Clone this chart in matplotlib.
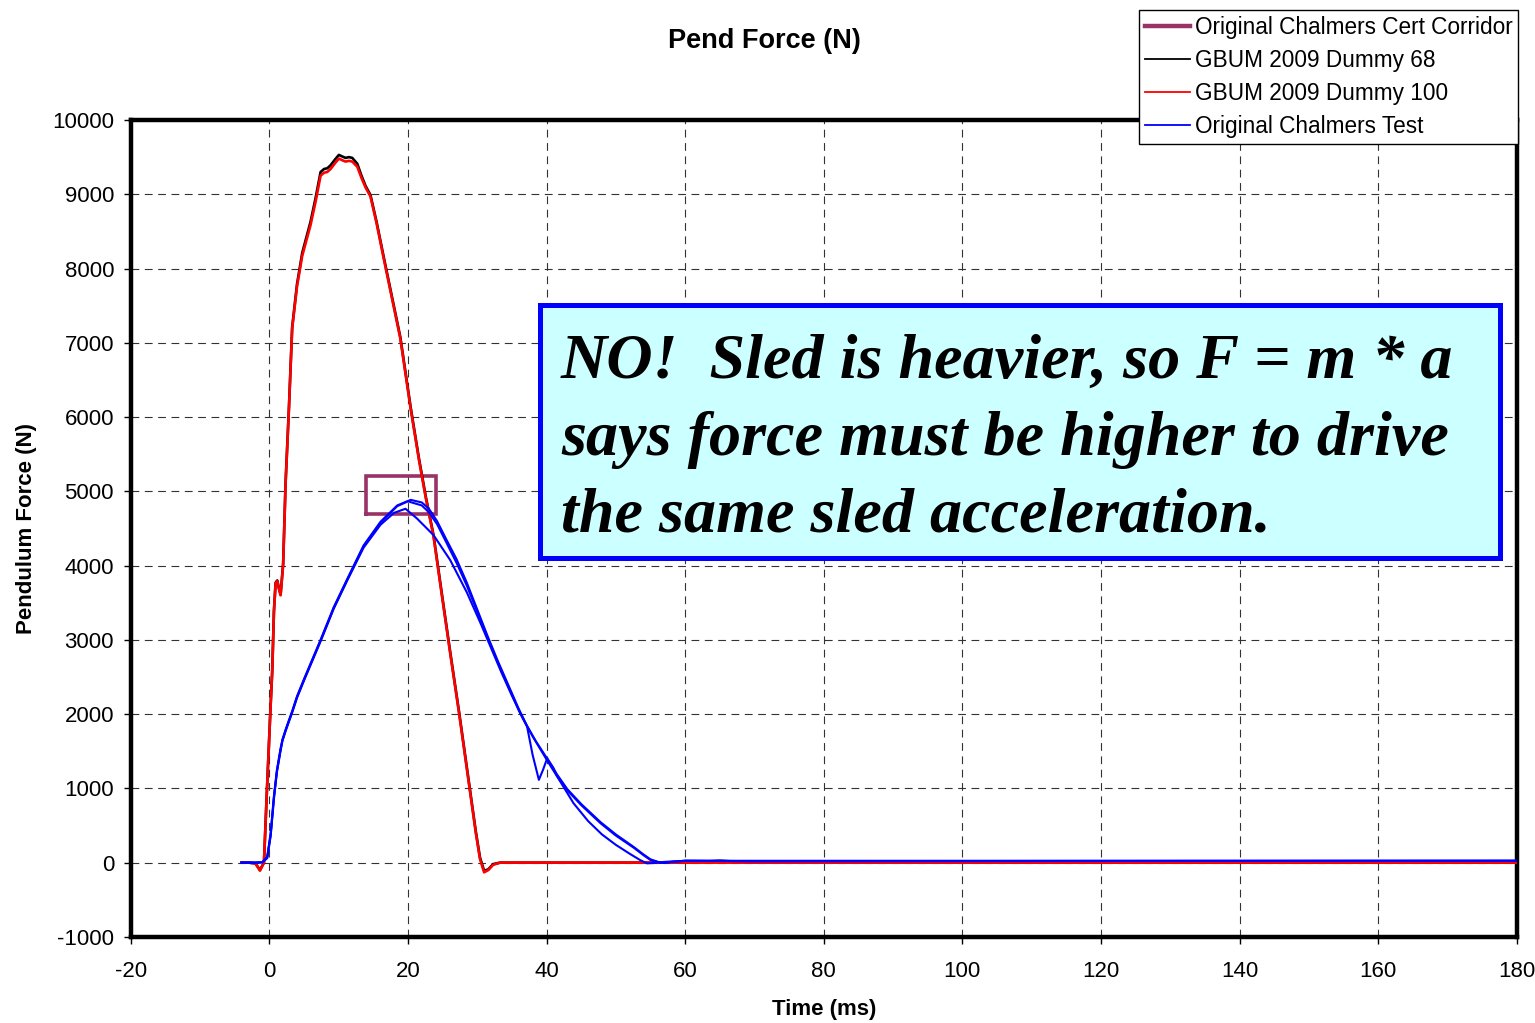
import matplotlib
matplotlib.use("Agg")
import matplotlib.pyplot as plt
from matplotlib.patches import Rectangle
from matplotlib.lines import Line2D

# ---------------- data ----------------
corridor_t = [14.0, 24.0, 24.0, 14.0, 14.0]
corridor_v = [4700, 4700, 5200, 5200, 4700]

red_t = [-4, -3, -2, -1.35, -0.77, -0.4, 0.19, 0.43, 0.67, 0.91, 1.15, 1.4, 1.63, 2.0, 2.35,
         2.83, 3.3, 4.0, 4.75, 5.95, 6.68, 7.4, 7.9, 8.36, 8.84, 9.5, 10.04, 10.5, 11.0, 11.5,
         11.97, 12.7, 13.3, 13.9, 14.6, 15.5, 16.5, 17.7, 18.9, 20.4, 21.6, 22.6, 23.7, 24.9,
         26.1, 27.4, 28.9, 29.8, 30.4, 31.0, 31.6, 32.3, 33.3, 35, 40, 60, 100, 140, 180]
red_v = [0, 0, -10, -108, 0, 845, 2110, 2590, 3380, 3760, 3790, 3680, 3600, 4015, 5100,
         6100, 7190, 7760, 8170, 8585, 8900, 9250, 9290, 9300, 9340, 9420, 9480, 9460, 9440, 9450,
         9440, 9370, 9220, 9090, 8970, 8600, 8140, 7600, 7060, 6110, 5420, 4900, 4390, 3600,
         2820, 2000, 1000, 400, 50, -130, -100, -30, 0, 0, 0, 0, 0, 0, 0]

black_t = [-4, -3, -2, -1.35, -0.77, -0.4, 0.19, 0.43, 0.67, 0.91, 1.15, 1.4, 1.63, 2.0, 2.35,
           2.83, 3.3, 4.0, 4.75, 5.95, 6.68, 7.4, 7.9, 8.36, 8.84, 9.5, 10.04, 10.5, 11.0, 11.5,
           11.97, 12.7, 13.3, 13.9, 14.6, 15.5, 16.5, 17.7, 18.9, 20.4, 21.6, 22.6, 23.7, 24.9,
           26.1, 27.4, 28.9, 29.8, 30.4, 31.0, 31.6, 32.3, 33.3, 35, 40, 60, 65, 70, 100, 140, 180]
black_v = [0, 0, -10, -100, 0, 850, 2120, 2600, 3390, 3770, 3800, 3690, 3610, 4030, 5120,
           6120, 7210, 7790, 8210, 8630, 8950, 9300, 9340, 9350, 9390, 9470, 9530, 9510, 9490, 9500,
           9490, 9410, 9250, 9110, 8990, 8620, 8160, 7620, 7080, 6130, 5440, 4920, 4410, 3620,
           2840, 2020, 1020, 420, 70, -110, -90, -20, 0, 0, 0, 0, 25, 0, 0, 0, 0]

blueA_t = [-4, -2, -1.0, -0.3, 0.2, 0.67, 1.1, 1.63, 1.9, 2.35, 2.8, 3.3, 4.0, 5.0, 5.95, 7.4,
           9.3, 11.25, 13.6, 16.05, 18.46, 20.4, 22.0, 23.0, 24.2, 25.5, 27.0, 28.5, 30.0, 31.5,
           33.0, 34.5, 36.0, 37.2, 38.5, 40.1, 41.5, 43.0, 45.0, 47.8, 50.0, 52.6, 54.0, 55.0,
           56.4, 57.0, 58.0, 60.0, 70.0, 180]
blueA_v = [0, 0, 5, 80, 400, 900, 1250, 1540, 1660, 1790, 1910, 2040, 2240, 2470, 2680, 3000,
           3440, 3820, 4270, 4590, 4810, 4885, 4850, 4770, 4600, 4360, 4090, 3770, 3410, 3050,
           2710, 2390, 2070, 1840, 1630, 1400, 1190, 990, 790, 545, 380, 210, 110, 45,
           0, -5, 10, 25, 20, 25]

blueB_t = [-4, -2, -1.0, -0.3, 0.2, 0.67, 1.1, 1.63, 1.9, 2.35, 2.8, 3.3, 4.0, 5.0, 5.95, 7.4,
           9.3, 11.25, 13.6, 16.05, 18.46, 20.0, 22.0, 23.0, 24.2, 25.5, 27.0, 28.5, 30.0, 31.5,
           33.0, 34.5, 36.0, 37.2, 38.0, 38.9, 39.5, 40.1, 41.0, 41.5, 43.0, 45.0, 47.8, 50.0,
           52.6, 54.0, 55.0, 56.4, 57.0, 58.0, 60.0, 70.0, 180]
blueB_v = [0, 0, 5, 70, 380, 880, 1230, 1520, 1650, 1780, 1900, 2030, 2230, 2460, 2670, 2990,
           3430, 3810, 4260, 4580, 4800, 4865, 4810, 4720, 4560, 4320, 4040, 3730, 3380, 3030,
           2690, 2370, 2050, 1830, 1450, 1115, 1250, 1405, 1275, 1170, 975, 775, 530, 365,
           200, 100, 35, 0, -5, 10, 25, 20, 25]

blueC_t = [-4, -2, -1.0, -0.3, 0.2, 0.67, 1.1, 1.63, 1.9, 2.35, 2.8, 3.3, 4.0, 5.0, 5.95, 7.4,
           9.3, 11.25, 13.6, 16.05, 18.0, 19.65, 21.3, 23.7, 26.1, 28.5, 30.5, 32.0, 33.5, 35.0,
           36.5, 38.0, 40.0, 42.0, 43.9, 46.0, 48.0, 50.0, 52.0, 53.5, 54.5, 55.5, 57.0, 60.0, 180]
blueC_v = [0, 0, 5, 60, 360, 860, 1220, 1510, 1640, 1770, 1890, 2020, 2220, 2450, 2660, 2980,
           3420, 3800, 4240, 4550, 4710, 4765, 4635, 4410, 4075, 3640, 3220, 2890, 2560, 2250,
           1960, 1700, 1390, 1090, 800, 560, 380, 240, 120, 35, -10, -5, 10, 25, 25]

x_ticks = list(range(-20, 181, 20))
y_ticks = list(range(-1000, 10001, 1000))

legend_labels = ["Original Chalmers Cert Corridor", "GBUM 2009 Dummy 68",
                 "GBUM 2009 Dummy 100", "Original Chalmers Test"]
note_lines = ["NO!  Sled is heavier, so F = m * a",
              "says force must be higher to drive",
              "the same sled acceleration."]

# ---------------- figure ----------------
W, H = 1535, 1023
plt.rcParams['axes.unicode_minus'] = False
plt.rcParams['font.family'] = ['Liberation Sans', 'DejaVu Sans']
fig = plt.figure(figsize=(W / 100, H / 100), dpi=100)

ax = fig.add_axes([130.7 / W, 1 - 936.9 / H, (1516.7 - 130.7) / W, (936.9 - 120) / H])

purple = '#993366'
ax.plot(corridor_t, corridor_v, color=purple, lw=2.6, zorder=2, solid_joinstyle='miter')
ax.plot(black_t, black_v, color='black', lw=1.9, zorder=3)
ax.plot(red_t, red_v, color='#ff0000', lw=1.9, zorder=4)
for bt, bv in ((blueA_t, blueA_v), (blueB_t, blueB_v), (blueC_t, blueC_v)):
    ax.plot(bt, bv, color='#0000ff', lw=1.5, zorder=5)

ax.set_xlim(-20, 180)
ax.set_ylim(-1000, 10000)
ax.set_xticks(x_ticks)
ax.set_yticks(y_ticks)
ax.tick_params(axis='both', labelsize=16, direction='out', length=5, width=1)
ax.tick_params(axis='x', pad=12)
ax.tick_params(axis='y', pad=7)
ax.grid(True, color='#333333', lw=0.8, linestyle=(0, (7, 5)))
ax.set_axisbelow(True)
for s in ax.spines.values():
    s.set_linewidth(3.2)
    s.set_color('black')

fig.text(764 / W, 1 - 41 / H, "Pend Force (N)", ha='center', va='center',
         fontsize=19.5, fontweight='bold')
fig.text(823.7 / W, 1 - 1009 / H, "Time (ms)", ha='center', va='center',
         fontsize=16, fontweight='bold')
fig.text(27 / W, 1 - 528 / H, "Pendulum Force (N)", ha='center', va='center',
         fontsize=16, fontweight='bold', rotation=90)

# legend
handles = [Line2D([], [], color=purple, lw=3.2),
           Line2D([], [], color='black', lw=1.3),
           Line2D([], [], color='#ff0000', lw=1.3),
           Line2D([], [], color='#0000ff', lw=1.3)]
leg = fig.legend(handles, legend_labels, loc='upper right',
                 bbox_to_anchor=(1518 / W, 1 - 10 / H), fontsize=16.3,
                 frameon=True, fancybox=False, framealpha=1, edgecolor='black',
                 borderaxespad=0, borderpad=0.25, labelspacing=0.45,
                 handlelength=2.0, handletextpad=0.2)
leg.get_frame().set_linewidth(1.0)
leg.set_zorder(10)

# annotation box
rect = Rectangle((540 / W, 1 - 558 / H), (1500 - 540) / W, (558 - 305) / H,
                 transform=fig.transFigure, facecolor='#ccffff', edgecolor='#0000ff',
                 lw=3.6, zorder=8)
fig.patches.append(rect)
baselines = [378, 455, 531]
for line, yb in zip(note_lines, baselines):
    fig.text(561 / W, 1 - yb / H, line, ha='left', va='baseline',
             fontsize=46.2, fontweight='bold', fontstyle='italic',
             family=['Liberation Serif', 'DejaVu Serif'], zorder=9)

fig.savefig("out.png", dpi=100)
